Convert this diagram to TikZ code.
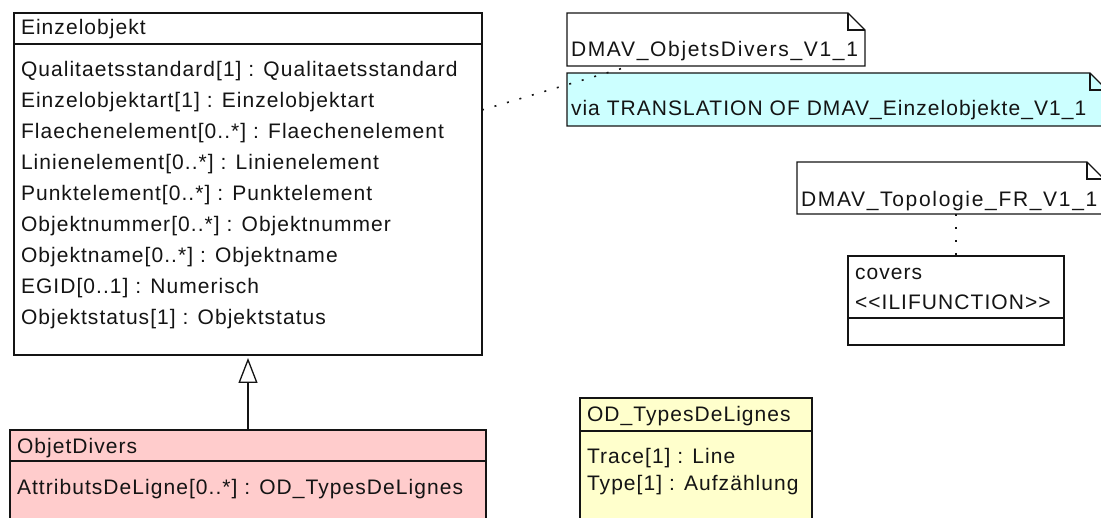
\documentclass[tikz,border=0pt]{standalone}
\usepackage{fontspec}
\setmainfont{Liberation Sans}[LetterSpace=5]
\usetikzlibrary{arrows.meta}
\definecolor{pinkfill}{RGB}{255,204,204}
\definecolor{cyanfill}{RGB}{204,255,255}
\definecolor{yellowfill}{RGB}{255,255,204}
\definecolor{ink}{RGB}{20,20,20}
\begin{document}
\begin{tikzpicture}[x=1pt,y=-1pt,
  every node/.style={font=\fontsize{21}{25}\selectfont, inner sep=0pt, outer sep=0pt},
  box/.style={draw=ink, line width=1.3pt, anchor=north west},
  txt/.style={anchor=base west, text=ink},
  widetxt/.style={txt, font=\fontsize{21}{25}\selectfont\addfontfeature{LetterSpace=8}},
  edge/.style={draw=ink, line width=1.3pt},
  dotline/.style={draw=ink, line width=1.6pt, dash pattern=on 2pt off 11pt},
  gen/.style={draw=ink, line width=1.3pt, -{Triangle[open, length=25pt, width=19pt, fill=white]}}
]
\useasboundingbox (0,0) rectangle (1101,518);
\clip (0,0) rectangle (1101,518);

% Einzelobjekt class
\node[box, fill=white, minimum width=468pt, minimum height=342pt] (einz) at (14,13) {};
\draw[edge] ([yshift=-31pt]einz.north west) -- ([yshift=-31pt]einz.north east);
\node[txt] (einzT) at (21,35) {Einzelobjekt};
\foreach \t [count=\i from 0] in {Qualitaetsstandard[1] : Qualitaetsstandard,
  Einzelobjektart[1] : Einzelobjektart,
  Flaechenelement[0..*] : Flaechenelement,
  Linienelement[0..*] : Linienelement,
  Punktelement[0..*] : Punktelement,
  Objektnummer[0..*] : Objektnummer,
  Objektname[0..*] : Objektname,
  EGID[0..1] : Numerisch,
  Objektstatus[1] : Objektstatus}
  \node[txt] (ea\i) at (21,77+31*\i) {\t};

% ObjetDivers class
\node[box, fill=pinkfill, minimum width=476pt, minimum height=120pt] (objd) at (10,430) {};
\draw[edge] ([yshift=-31pt]objd.north west) -- ([yshift=-31pt]objd.north east);
\node[txt] (objdT) at (17,454) {ObjetDivers};
\node[txt] (objdA) at (17,495) {AttributsDeLigne[0..*] : OD\_TypesDeLignes};

% generalization
\draw[gen, shorten >=3pt] (objd.north) -- (einz.south);

% OD_TypesDeLignes class
\node[box, fill=yellowfill, minimum width=232pt, minimum height=140pt] (odt) at (580,398) {};
\draw[edge] ([yshift=-33pt]odt.north west) -- ([yshift=-33pt]odt.north east);
\node[txt] (odtT) at (587,422) {OD\_TypesDeLignes};
\node[txt] (odtA) at (587,464) {Trace[1] : Line};
\node[txt] (odtB) at (587,490) {Type[1] : Aufzählung};

% covers function box
\node[box, fill=white, minimum width=216pt, minimum height=89pt] (cov) at (848,256) {};
\draw[edge] ([yshift=-62pt]cov.north west) -- ([yshift=-62pt]cov.north east);
\node[txt] (covT) at (855,280) {covers};
\node[txt] (covS) at (855,310) {<{}<ILIFUNCTION>{}>};

% note 1
\node[anchor=north west, minimum width=298pt, minimum height=53pt] (n1) at (567,13) {};
\draw[edge, fill=white] (n1.north west) -- ([xshift=-17pt]n1.north east) -- ([yshift=-17pt]n1.north east) -- (n1.south east) -- (n1.south west) -- cycle;
\draw[edge] ([xshift=-17pt]n1.north east) |- ([yshift=-17pt]n1.north east);
\node[widetxt] (n1T) at (571,57) {DMAV\_ObjetsDivers\_V1\_1};

% note 2 (cyan)
\node[anchor=north west, minimum width=540pt, minimum height=53pt] (n2) at (567,73) {};
\draw[edge, fill=cyanfill] (n2.north west) -- ([xshift=-17pt]n2.north east) -- ([yshift=-17pt]n2.north east) -- (n2.south east) -- (n2.south west) -- cycle;
\draw[edge] ([xshift=-17pt]n2.north east) |- ([yshift=-17pt]n2.north east);
\node[txt] (n2T) at (571,116) {via TRANSLATION OF DMAV\_Einzelobjekte\_V1\_1};

% note 3
\node[anchor=north west, minimum width=307pt, minimum height=52pt] (n3) at (797,162) {};
\draw[edge, fill=white] (n3.north west) -- ([xshift=-17pt]n3.north east) -- ([yshift=-17pt]n3.north east) -- (n3.south east) -- (n3.south west) -- cycle;
\draw[edge] ([xshift=-17pt]n3.north east) |- ([yshift=-17pt]n3.north east);
\node[widetxt] (n3T) at (801,207) {DMAV\_Topologie\_FR\_V1\_1};

% dotted links
\coordinate (dA) at (482,110);
\coordinate (dB) at (630,66);
\draw[dotline] (dA) -- (dB);
\draw[dotline] (cov.north |- n3.south) -- (cov.north);
\end{tikzpicture}
\end{document}
